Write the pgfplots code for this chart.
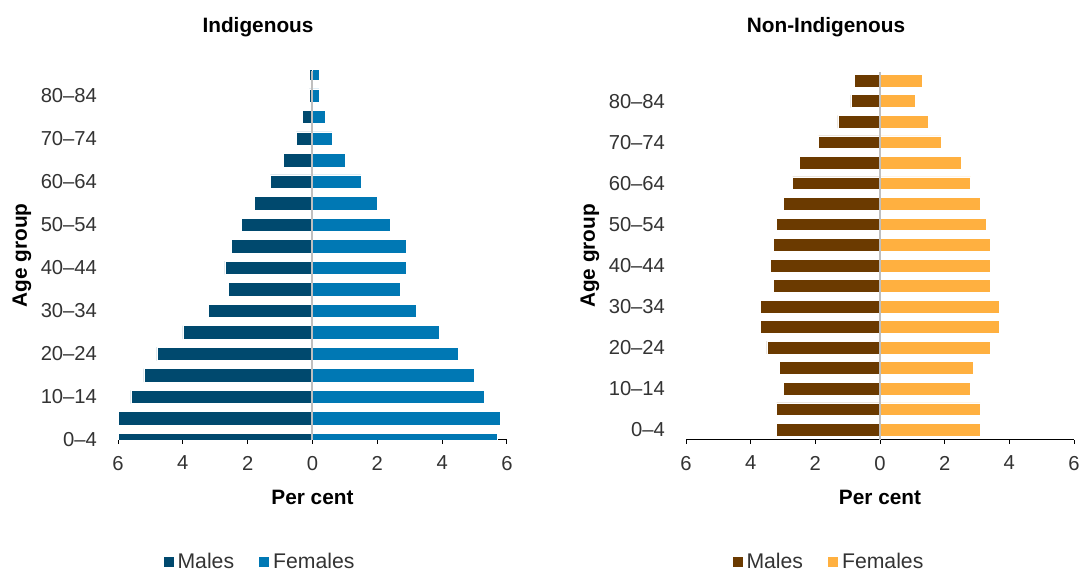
\documentclass[border=0pt]{standalone}
\usepackage{pgfplots}
\pgfplotsset{compat=1.18}
\usepackage{fontspec}
\setmainfont{Liberation Sans}
\definecolor{imale}{RGB}{0,73,110}
\definecolor{ifemale}{RGB}{0,120,180}
\definecolor{nmale}{RGB}{107,58,0}
\definecolor{nfemale}{RGB}{255,176,64}
\definecolor{tick}{RGB}{51,51,51}

% Indigenous: category index, males (negative), females
\pgfplotstableread{
c m f
0 -6.0 5.7
1 -6.0 5.8
2 -5.6 5.3
3 -5.2 5.0
4 -4.8 4.5
5 -4.0 3.9
6 -3.2 3.2
7 -2.6 2.7
8 -2.7 2.9
9 -2.5 2.9
10 -2.2 2.4
11 -1.8 2.0
12 -1.3 1.5
13 -0.9 1.0
14 -0.5 0.6
15 -0.3 0.4
16 -0.1 0.2
17 -0.1 0.2
}\indig
\pgfplotstableread{
c m f
0 -3.2 3.1
1 -3.2 3.1
2 -3.0 2.8
3 -3.1 2.9
4 -3.5 3.4
5 -3.7 3.7
6 -3.7 3.7
7 -3.3 3.4
8 -3.4 3.4
9 -3.3 3.4
10 -3.2 3.3
11 -3.0 3.1
12 -2.7 2.8
13 -2.5 2.5
14 -1.9 1.9
15 -1.3 1.5
16 -0.9 1.1
17 -0.8 1.3
}\nonindig

\pgfplotsset{
  pyr/.style={
    scale only axis,
    anchor=south west,
    xbar, bar shift=0pt, bar width=0.62,
    xmin=-6, xmax=6,
    xtick={-6,-4,-2,0,2,4,6},
    xticklabels={6,4,2,0,2,4,6},
    ytick={0,2,4,6,8,10,12,14,16},
    yticklabels={0--4,10--14,20--24,30--34,40--44,50--54,60--64,70--74,80--84},
    axis x line*=bottom,
    axis y line*=left,
    y axis line style={draw=none},
    x axis line style={black, line width=0.5pt, -},
    xtick style={black, line width=0.5pt},
    tick align=outside,
    major tick length=2pt,
    ytick style={draw=none},
    tick label style={font=\fontsize{10.1}{12}\selectfont, text=tick},
    xticklabel style={yshift=-2.5pt},
    yticklabel style={anchor=east, xshift=-5pt},
    xlabel={\textbf{Per cent}},
    ylabel={\textbf{Age group}},
    label style={font=\fontsize{10.4}{12}\selectfont},
    xlabel style={at={(axis description cs:0.5,0)}, anchor=center, yshift=-28.5pt},
    legend columns=2,
    legend style={draw=none, fill=none, font=\fontsize{10.6}{12}\selectfont, text=tick,
      anchor=center, yshift=-61pt, inner sep=0pt,
      /tikz/every even column/.append style={column sep=10.5pt}},
    legend image code/.code={\fill[##1, draw=none] (0pt,-2.5pt) rectangle (5pt,2.5pt);},
    legend cell align=left,
    every axis plot/.append style={draw=white, line width=0.3pt},
  }
}

\begin{document}
\begin{tikzpicture}
\path[use as bounding box] (0,0) rectangle (540.5pt,285.5pt);

\begin{axis}[pyr, at={(59pt,65.5pt)}, width=194.5pt, height=184.6pt,
  ymin=0, ymax=17.15,
  ylabel style={at={(axis description cs:-0.2468,0.5)}, anchor=center},
  legend style={at={(axis description cs:0.3676,0)}}]
  \addplot[fill=imale] table[x=m, y=c] {\indig};
  \addplot[fill=ifemale] table[x=f, y=c] {\indig};
  \legend{Males,Females}
  \draw[draw=black!25, line width=1pt] (axis cs:0,0) -- (axis cs:0,17.15);
\end{axis}

\begin{axis}[pyr, at={(343pt,65.5pt)}, width=194pt, height=184.1pt,
  ymin=-0.5, ymax=17.43,
  ylabel style={at={(axis description cs:-0.2474,0.5)}, anchor=center},
  legend style={at={(axis description cs:0.371,0)}}]
  \addplot[fill=nmale] table[x=m, y=c] {\nonindig};
  \addplot[fill=nfemale] table[x=f, y=c] {\nonindig};
  \legend{Males,Females}
  \draw[draw=black!25, line width=1pt] (axis cs:0,-0.5) -- (axis cs:0,17.43);
\end{axis}

\node[font=\fontsize{10.4}{12}\selectfont\bfseries, anchor=center] at (129pt,272pt) {Indigenous};
\node[font=\fontsize{10.4}{12}\selectfont\bfseries, anchor=center] at (413pt,272pt) {Non-Indigenous};
\end{tikzpicture}
\end{document}
